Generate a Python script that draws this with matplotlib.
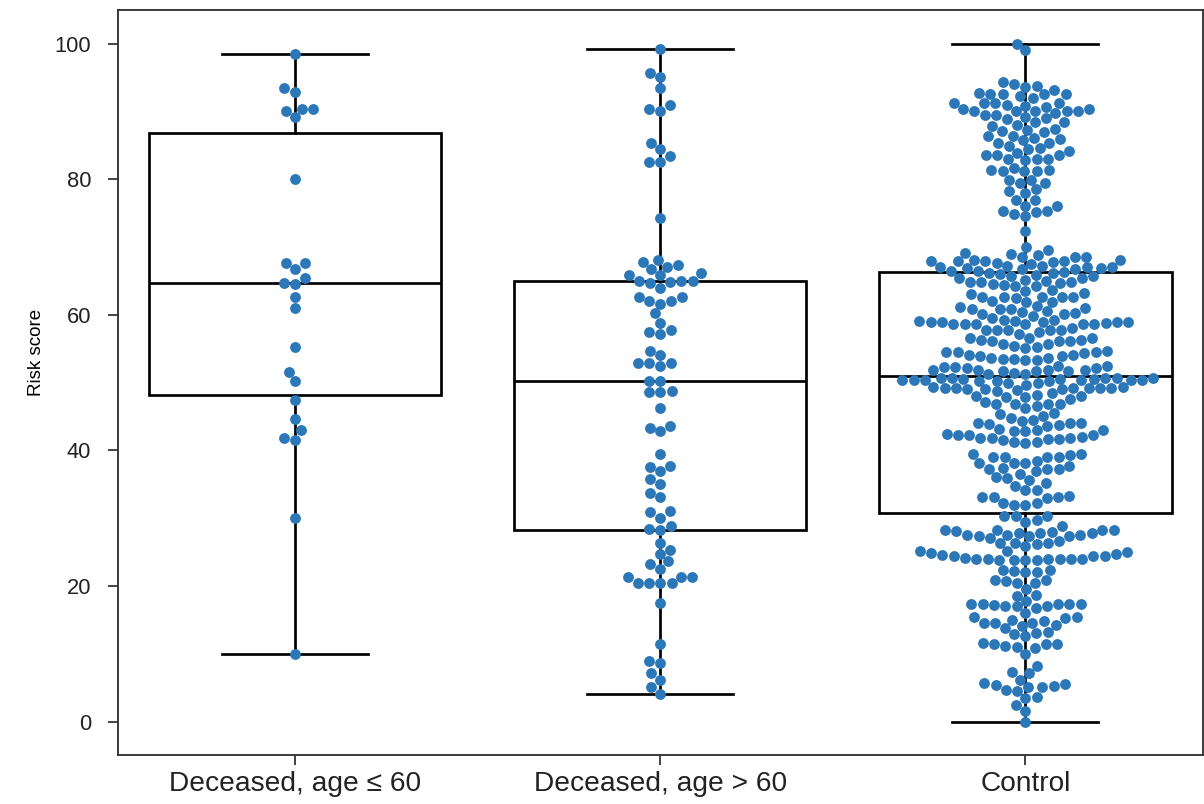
import numpy as np
import pandas as pd
import matplotlib
matplotlib.use("Agg")
import matplotlib.pyplot as plt  # noqa: E402
import seaborn as sns  # noqa: E402

plt.rcParams["font.family"] = ["Liberation Sans", "DejaVu Sans"]

groups = ["Deceased, age \u2264 60", "Deceased, age > 60", "Control"]

# risk scores, one value per dot
young = [98.5, 93.4, 92.9, 90.4, 90.4, 90.0, 89.1, 80.0, 67.7, 67.7, 66.8, 65.4,
         64.7, 64.6, 62.7, 61.0, 55.3, 51.6, 50.3, 47.4, 44.7, 43.0, 41.8, 41.6,
         30.1, 10.0]

old = [99.2, 95.6, 95.1, 93.4, 90.9, 90.3, 90.1, 85.4, 84.4, 83.4, 82.5, 82.5,
       74.3, 68.1, 67.8, 67.4, 67.1, 66.7, 66.1, 65.8, 65.8, 65.0, 65.0, 65.0,
       64.8, 64.7, 64.0, 62.7, 62.6, 62.0, 62.0, 61.6, 60.2, 58.8, 57.7, 57.4,
       57.1, 54.6, 54.1, 52.9, 52.9, 52.9, 52.5, 50.3, 50.2, 48.7, 48.6, 48.6,
       46.2, 43.6, 43.3, 42.8, 39.5, 37.7, 37.6, 36.9, 35.8, 35.1, 33.8, 33.1,
       31.0, 30.9, 30.1, 28.9, 28.4, 28.2, 26.4, 25.3, 24.8, 23.7, 23.2, 22.5,
       21.3, 21.3, 21.3, 20.4, 20.4, 20.4, 20.4, 17.5, 11.5, 9.0, 8.6, 7.2,
       6.2, 5.1, 4.1]

control = [
    100.0, 99.0,
    94.3, 93.8, 93.6, 94.0,
    93.1, 92.6, 92.6, 92.0, 92.5, 92.2, 92.5, 92.7,
    91.3, 90.8, 91.0, 90.7, 90.4, 91.2, 90.4, 91.2, 91.2,
    90.0, 90.0, 89.4, 89.2, 89.8, 89.0, 90.0, 89.4, 90.0, 90.0,
    87.4, 88.0, 88.4, 87.8, 88.9, 88.4,
    87.1, 86.9, 87.3,
    86.1, 85.4, 86.4, 85.9, 85.4, 85.8, 86.3,
    84.1, 83.6, 83.5, 84.9, 84.4, 84.6, 83.5, 83.9,
    83.0, 82.8, 83.0, 83.0,
    81.4, 81.4, 81.2, 81.2, 81.2, 81.6,
    79.9, 79.9, 79.4, 79.5,
    78.5, 78.0, 78.2,
    76.9, 76.9, 76.1, 76.1,
    75.3, 74.8, 74.5, 75.1, 75.3,
    72.3, 70.0, 69.5, 68.6, 69.1,
    68.1, 67.9, 67.7, 68.8, 67.9, 67.5, 68.0, 67.8, 68.5, 68.5, 69.0, 67.9, 68.1,
    67.0, 66.2, 65.9, 66.9, 66.2, 66.7, 66.4, 67.0, 66.9, 67.2, 66.5, 66.7,
    67.2, 66.0, 66.3, 67.0,
    65.0, 64.9, 65.4, 64.9, 65.7, 65.7, 64.7, 64.9, 65.2, 65.4,
    64.2, 64.4, 64.2, 64.6, 63.6,
    63.5, 62.7, 62.5, 62.0, 62.7, 63.0, 61.9, 62.7, 61.9, 62.6, 62.7, 63.2,
    60.8, 60.1, 60.1, 61.3, 61.0, 60.4, 61.1, 60.5, 59.8, 60.8, 60.2, 60.8,
    59.0, 59.0, 58.7, 58.7, 58.7, 58.6, 59.1, 59.0, 59.3, 59.5, 59.3, 59.1,
    58.8, 58.7, 58.7, 58.9, 59.0,
    57.8, 57.8, 57.5, 57.8, 57.8, 58.1, 57.8,
    56.6, 56.2, 56.3, 56.6, 56.3, 56.6, 56.1, 56.2, 57.2,
    55.4, 55.1, 55.2, 55.7, 55.7,
    54.5, 54.4, 54.1, 53.7, 53.9, 53.5, 53.4, 53.4, 53.5, 54.6, 53.7, 53.9,
    54.1, 54.5, 54.5,
    52.3, 51.7, 51.4, 51.3, 52.4, 52.2, 51.7, 52.2, 51.9, 51.8, 52.3, 52.4,
    51.7, 51.3, 51.9, 51.9,
    50.4, 50.4, 50.3, 50.0, 50.0, 49.7, 50.7, 50.6, 50.7, 50.6, 50.7, 50.4,
    50.2, 50.4, 50.6, 50.7, 50.4, 50.3, 50.4, 50.7,
    49.2, 49.0, 49.2, 49.2, 49.0, 49.2, 49.2, 49.2, 49.3, 48.9, 49.1, 49.3,
    47.9, 48.2, 48.0, 48.7, 47.9, 48.4, 47.6, 48.0,
    46.9, 46.8, 46.5, 47.1, 46.3, 46.9, 46.9,
    45.4, 44.8, 44.5, 45.5, 44.3, 45.1,
    44.1, 43.9, 43.1, 43.0, 42.8, 44.1, 42.8, 43.0, 43.6, 43.7, 44.1,
    42.3, 41.9, 41.8, 41.7, 41.6, 41.2, 42.3, 41.1, 41.3, 41.7, 41.8, 42.0,
    42.3, 42.5,
    39.5, 38.5, 39.4, 39.1, 39.1, 38.2, 39.1, 39.1, 38.2, 38.2, 39.5,
    37.2, 37.2, 37.7, 36.6, 37.4, 36.9, 37.3, 36.1,
    35.9, 34.7, 35.6, 35.2, 34.1, 34.2,
    33.2, 33.2, 32.3, 32.0, 32.0, 32.2, 33.0, 33.2, 33.3,
    30.3, 30.3, 29.8, 29.5, 30.3,
    28.3, 28.3, 27.6, 27.1, 27.8, 27.6, 28.3, 28.1, 27.8, 27.4, 27.6, 27.4,
    27.4, 28.3, 28.8, 28.0, 27.9,
    26.4, 26.4, 26.6, 26.4, 25.9, 26.2,
    25.2, 24.9, 24.4, 24.0, 24.0, 24.0, 23.9, 24.6, 23.9, 23.8, 23.9, 24.4,
    24.0, 24.0, 24.0, 24.4, 24.8, 25.0, 25.2, 24.2,
    22.4, 22.2, 22.1, 22.1, 22.4,
    20.9, 20.5, 20.5, 19.5, 20.7, 20.9,
    18.7, 18.6,
    17.8, 17.4, 17.3, 17.0, 16.7, 17.0, 17.0, 17.4, 17.3, 17.4, 17.2,
    14.9, 14.3, 15.5, 14.6, 15.3, 14.6, 15.5, 16.0, 14.6, 14.1, 15.0,
    13.3, 12.6, 13.8, 13.1, 12.9,
    11.4, 10.9, 11.6, 11.0, 11.5, 11.5, 10.0, 11.2,
    8.2, 7.2, 7.4,
    5.6, 4.7, 4.6, 6.2, 5.2, 5.1, 5.1, 5.7, 5.4,
    3.5, 3.7, 2.4, 1.6, 0.0,
]

df = pd.DataFrame({
    "group": [groups[0]] * len(young) + [groups[1]] * len(old) + [groups[2]] * len(control),
    "score": np.concatenate([young, old, control]),
})

fig = plt.figure(figsize=(8.033, 5.36), dpi=150)
ax = fig.add_axes([0.098, 0.061, 0.9, 0.927])

line = dict(color="black", linewidth=1.3)
ax.boxplot([young, old, control], positions=[0, 1, 2], widths=0.8,
           patch_artist=True, showfliers=False,
           boxprops=dict(facecolor="white", edgecolor="black", linewidth=1.3),
           medianprops=line, whiskerprops=line, capprops=line)

sns.swarmplot(data=df, x="group", y="score", order=groups, color="#2c77b8",
              size=5.2, ax=ax, zorder=3)

ax.set_xlim(-0.485, 2.485)
ax.set_ylim(-4.9, 105)
ax.set_xticks([0, 1, 2])
ax.set_xticklabels(groups, fontsize=13.5)
ax.set_yticks([0, 20, 40, 60, 80, 100])
ax.set_xlabel("")
ax.set_ylabel("Risk score", fontsize=9)
ax.yaxis.set_label_coords(-0.067, 0.54)
ax.tick_params(axis="y", labelsize=10.5, length=5, pad=8, colors="#222222")
ax.tick_params(axis="x", length=5, pad=2.5, colors="#222222")
for s in ax.spines.values():
    s.set_color("#333333")
    s.set_linewidth(0.9)

fig.savefig("out.png", dpi=150)
